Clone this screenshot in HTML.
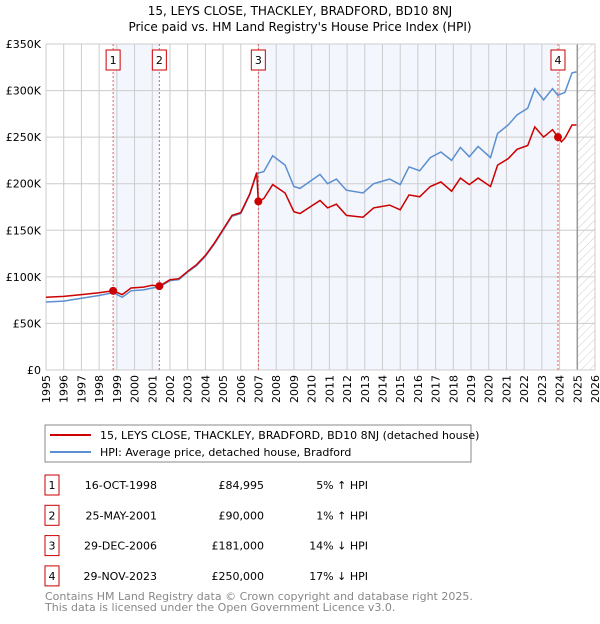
<!DOCTYPE html>
<html><head><meta charset="utf-8"><style>
body{margin:0;background:#fff;font-family:"DejaVu Sans","Liberation Sans",sans-serif;}
svg text{font-family:"DejaVu Sans","Liberation Sans",sans-serif;}
</style></head><body>
<svg id="chart" width="600" height="620" xmlns="http://www.w3.org/2000/svg">
<defs><pattern id="hatch" width="6" height="6" patternUnits="userSpaceOnUse" patternTransform="rotate(45)"><line x1="0" y1="0" x2="0" y2="6" stroke="#ccc" stroke-width="1"/></pattern></defs>
<text x="300" y="15" text-anchor="middle" font-size="12">15, LEYS CLOSE, THACKLEY, BRADFORD, BD10 8NJ</text>
<text x="300" y="31" text-anchor="middle" font-size="12">Price paid vs. HM Land Registry's House Price Index (HPI)</text>
<g id="plot"></g>
<rect x="45" y="425" width="426" height="37" fill="#fff" stroke="#888"/>
<line x1="50" y1="435" x2="91" y2="435" stroke="#cc0000" stroke-width="2"/>
<text x="100" y="439" font-size="11">15, LEYS CLOSE, THACKLEY, BRADFORD, BD10 8NJ (detached house)</text>
<line x1="50" y1="452" x2="91" y2="452" stroke="#5b8fd0" stroke-width="2"/>
<text x="100" y="456" font-size="11">HPI: Average price, detached house, Bradford</text>
<g id="table" font-size="11"></g>
<text x="45" y="600" font-size="11" fill="#888">Contains HM Land Registry data © Crown copyright and database right 2025.</text>
<text x="45" y="611" font-size="11" fill="#888">This data is licensed under the Open Government Licence v3.0.</text>
</svg>
<script>
const yearTicks=[1995,1996,1997,1998,1999,2000,2001,2002,2003,2004,2005,2006,2007,2008,2009,2010,2011,2012,2013,2014,2015,2016,2017,2018,2019,2020,2021,2022,2023,2024,2025,2026];
const valueTicks=[0,50000,100000,150000,200000,250000,300000,350000];
const valueLabels=["£0","£50K","£100K","£150K","£200K","£250K","£300K","£350K"];
const hpiYears=[1995,1996,1997,1998,1998.8,1999.3,1999.8,2000.5,2001,2001.4,2002,2002.5,2003,2003.5,2004,2004.5,2005,2005.5,2006,2006.5,2006.9,2007.3,2007.8,2008.5,2009,2009.34,2010.47,2010.9,2011.4,2011.96,2012.9,2013.5,2014.4,2015,2015.5,2016.1,2016.7,2017.3,2017.9,2018.4,2018.9,2019.4,2020.1,2020.5,2021.1,2021.6,2022.2,2022.6,2023.1,2023.6,2023.9,2024.3,2024.7,2024.95];
const hpiValues=[73000,74000,77000,80000,83000,78000,85000,86000,88000,89000,96000,97000,105000,112000,122000,135000,150000,165000,168000,188000,211000,213000,230000,220000,197000,195000,210000,200000,205000,193000,190000,200000,205000,199000,218000,214000,228000,234000,225000,239000,229000,240000,228000,254000,263000,274000,281000,302000,290000,302000,295000,298000,319000,320000];
const priceYears=[1995,1996,1997,1998,1998.79,1999.3,1999.8,2000.5,2001,2001.4,2002,2002.5,2003,2003.5,2004,2004.5,2005,2005.5,2006,2006.5,2006.9,2006.99,2007.3,2007.8,2008.5,2009,2009.34,2010.47,2010.9,2011.4,2011.96,2012.9,2013.5,2014.4,2015,2015.5,2016.1,2016.7,2017.3,2017.9,2018.4,2018.9,2019.4,2020.1,2020.5,2021.1,2021.6,2022.2,2022.6,2023.1,2023.6,2023.91,2024.1,2024.3,2024.7,2024.95];
const priceValues=[78000,79000,81000,83000,84995,81000,88000,89000,91000,90000,97000,98000,106000,113000,123000,136000,151000,166000,169000,189000,212000,181000,184000,199000,190000,170000,168000,182000,174000,178000,166000,164000,174000,177000,172000,188000,186000,197000,202000,192000,206000,199000,206000,197000,220000,227000,237000,241000,261000,250000,258000,250000,245000,249000,263000,263000];
const saleLabels=["1","2","3","4"];
const saleYears=[1998.79,2001.4,2006.99,2023.91];
const saleValues=[84995,90000,181000,250000];
const saleDates=["16-OCT-1998","25-MAY-2001","29-DEC-2006","29-NOV-2023"];
const salePrices=["£84,995","£90,000","£181,000","£250,000"];
const saleDiffs=["5% ↑ HPI","1% ↑ HPI","14% ↓ HPI","17% ↓ HPI"];

const NS="http://www.w3.org/2000/svg";
const X0=46,X1=595,Y0=370,Y1=44;
const xs=y=>X0+(y-1995)/(2026-1995)*(X1-X0);
const ys=v=>Y0-v/350000*(Y0-Y1);
function mk(tag,attrs,parent){const e=document.createElementNS(NS,tag);for(const k in attrs)e.setAttribute(k,attrs[k]);parent.appendChild(e);return e;}
const g=document.getElementById('plot');
const shades=[[saleYears[0],saleYears[1]],[saleYears[2],saleYears[3]]];
shades.forEach(s=>{
  const r=mk('rect',{x:xs(s[0]),y:Y1,width:xs(s[1])-xs(s[0]),height:Y0-Y1,fill:'#f3f6fd'},g);
  
  
});
const h=mk('rect',{x:xs(2025),y:Y1,width:X1-xs(2025),height:Y0-Y1,fill:'url(#hatch)'},g);


yearTicks.forEach(y=>{
  const l=mk('line',{x1:xs(y),x2:xs(y),y1:Y1,y2:Y0,stroke:'#ccc','stroke-width':1},g);
  
  
  const t=mk('text',{x:0,y:0,'text-anchor':'end','font-size':11,transform:'translate('+(xs(y)+4)+','+(Y0+5)+') rotate(-90)'},g);t.textContent=y;
  
  
});
valueTicks.forEach((v,i)=>{
  const l=mk('line',{x1:X0,x2:X1,y1:ys(v),y2:ys(v),stroke:'#ccc','stroke-width':1},g);
  
  
  const t=mk('text',{x:X0-5,y:ys(v)+4,'text-anchor':'end','font-size':11},g);t.textContent=valueLabels[i];
  
  
});
const nl=mk('line',{x1:xs(2025),x2:xs(2025),y1:Y1,y2:Y0,stroke:'#999','stroke-width':1.5},g);


mk('rect',{x:X0,y:Y1,width:X1-X0,height:Y0-Y1,fill:'none',stroke:'#ccc'},g);
saleYears.forEach((y,i)=>{
  const l=mk('line',{x1:xs(y),x2:xs(y),y1:Y1,y2:Y0,stroke:'#e06060','stroke-width':1,'stroke-dasharray':'2,2'},g);
  
  
  const b=mk('rect',{x:xs(y)-7,y:50,width:14,height:20,fill:'#fff',stroke:'#cc0000'},g);
  
  
  const t=mk('text',{x:xs(y),y:64,'text-anchor':'middle','font-size':11},g);t.textContent=saleLabels[i];
  
  
});
const path=(xa,va)=>xa.map((y,i)=>(i?'L':'M')+xs(y).toFixed(1)+','+ys(va[i]).toFixed(1)).join('');
const hp=mk('path',{d:path(hpiYears,hpiValues),fill:'none',stroke:'#5b8fd0','stroke-width':1.5},g);


const pp=mk('path',{d:path(priceYears,priceValues),fill:'none',stroke:'#cc0000','stroke-width':1.5},g);


saleYears.forEach((y,i)=>{
  const c=mk('circle',{cx:xs(y),cy:ys(saleValues[i]),r:4,fill:'#cc0000'},g);
  
  
});
const tb=document.getElementById('table');
saleLabels.forEach((lab,i)=>{
  const yy=475+i*30.3;
  const b=mk('rect',{x:45,y:yy,width:14,height:20,fill:'#fff',stroke:'#cc0000'},tb);
  
  
  const cells=[[52,'middle',lab],[157,'end',saleDates[i]],[264,'end',salePrices[i]],[368,'end',saleDiffs[i]]];
  cells.forEach((c,j)=>{
    const t=mk('text',{x:c[0],y:yy+14,'text-anchor':c[1]},tb);t.textContent=c[2];
    
    
  });
});
</script>
</body></html>
